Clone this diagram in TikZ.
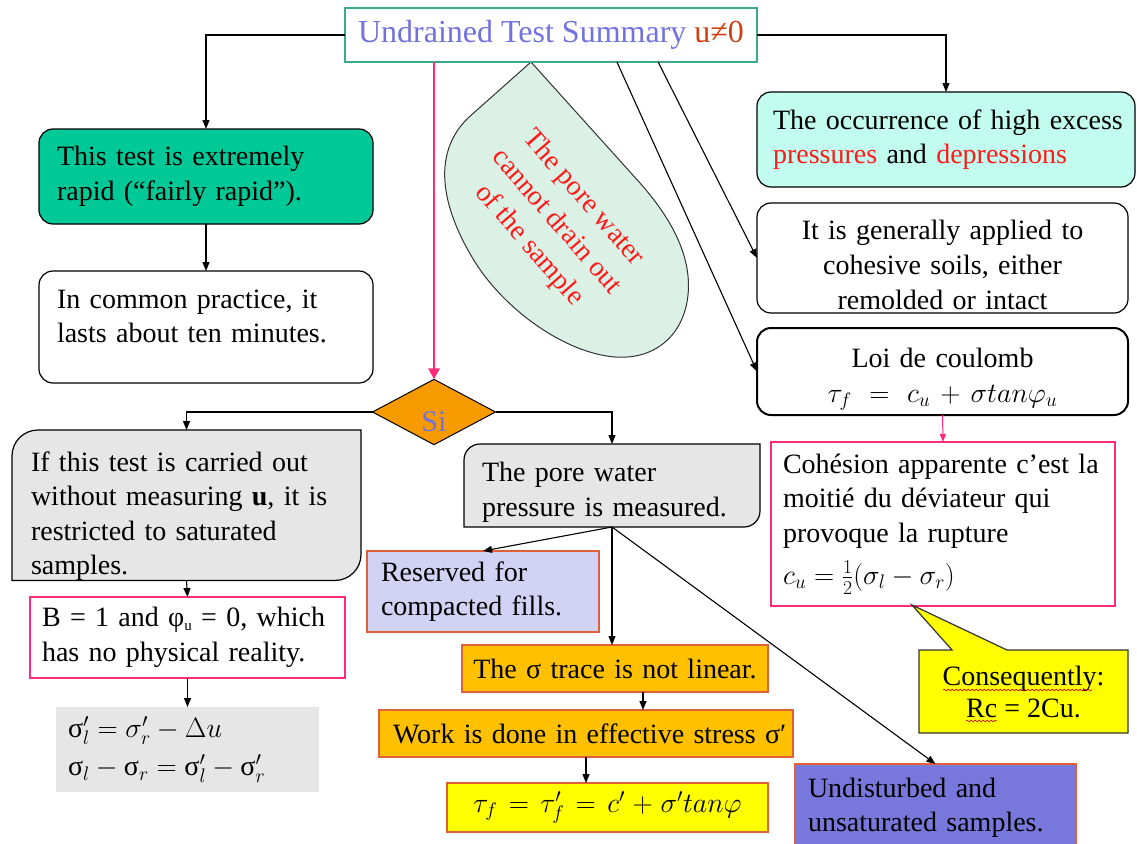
\RequirePackage{fix-cm}
\documentclass[tikz,border=0pt]{standalone}
\usepackage{fontspec}
\setmainfont{Liberation Serif}
\usetikzlibrary{shapes.geometric,arrows.meta,calc,backgrounds,decorations.pathmorphing}

\definecolor{ttlblue}{HTML}{7272DE}
\definecolor{ttlred}{HTML}{D04010}
\definecolor{ttlgreen}{HTML}{3AAA88}
\definecolor{rapidgreen}{HTML}{00C896}
\definecolor{dropfill}{HTML}{DCF1E6}
\definecolor{lightcyan}{HTML}{C2FCEE}
\definecolor{boxgray}{HTML}{E6E6E6}
\definecolor{pinkc}{HTML}{FF2A7A}
\definecolor{siorange}{HTML}{F79A00}
\definecolor{lav}{HTML}{D2D2F4}
\definecolor{amber}{HTML}{FFC000}
\definecolor{edgeor}{HTML}{E0603A}
\definecolor{yel}{HTML}{FFFF00}
\definecolor{purp}{HTML}{7878DC}
\definecolor{redtxt}{HTML}{FF1A1A}

\newcommand\bodyfont{\fontsize{28}{34.5}\selectfont}
\newcommand\upht[1]{\rule{0pt}{#1}}
\newcommand\dndp[1]{\rule[-#1]{0pt}{0pt}}
\newcommand\lnx[1]{\mbox{#1}}

\begin{document}
\begin{tikzpicture}[x=1pt,y=-1pt,
  every node/.style={inner sep=0pt, outer sep=0pt, font=\bodyfont},
  tbox/.style={rectangle, anchor=north west, align=left, line width=1.2pt},
  cbox/.style={rectangle, anchor=north west, align=center, line width=1.2pt},
  arr/.style={draw=black, line width=1.1pt, -{Triangle[length=9pt,width=7pt]}},
  pinkarr/.style={draw=pinkc, line width=2.8pt, -{Triangle[length=11pt,width=11pt]}},
  thinpink/.style={draw=pinkc, line width=1pt, -{Triangle[length=8pt,width=6pt]}},
  orbox/.style={draw=edgeor, line width=1.3pt}
]
\useasboundingbox (0,0) rectangle (1137,843);

% teardrop
\draw[fill=dropfill, draw=black!80, line width=1pt]
  (531,62) -- (640,183) .. controls (670,217) and (692,255) .. (688,295)
  .. controls (684,335) and (655,360) .. (615,357)
  .. controls (565,353) and (505,310) .. (475,262)
  .. controls (450,222) and (425,160) .. (468,118) -- cycle;
\node[text=redtxt, rotate=-49, align=center, font=\fontsize{28}{36}\selectfont] (droptxt) at (556,222)
  {The pore water\\cannot drain out\\of the sample};

% title
\node[draw=ttlgreen, line width=1.5pt, fill=white, minimum width=412pt, minimum height=54pt,
  font=\fontsize{32}{36}\selectfont] (title) at (551,35)
  {\textcolor{ttlblue}{Undrained Test Summary} \textcolor{ttlred}{u≠0}};

% left column
\node[tbox, draw, fill=rapidgreen, rounded corners=14pt, minimum width=334pt, minimum height=95pt,
  text width=298pt, inner xsep=18pt] (rapid) at (39,129)
  {\lnx{This test is extremely}\\\lnx{rapid (“fairly rapid”).}};
\node[tbox, draw, fill=white, rounded corners=14pt, minimum width=334pt, minimum height=112pt,
  text width=298pt, inner xsep=18pt] (common) at (39,271)
  {\lnx{In common practice, it}\\\lnx{lasts about ten minutes.}\dndp{22pt}};

% diamond
\node[diamond, draw, line width=1pt, fill=siorange, minimum width=123pt, minimum height=63pt,
  text=ttlblue, font=\fontsize{30}{34}\selectfont] (dia) at (434,412) {\upht{40pt}Si};

\node[tbox, minimum width=349pt, minimum height=150pt, text width=311pt, inner xsep=19pt] (ifb) at (12,430)
  {\upht{41pt}\lnx{If this test is carried out}\\\lnx{without measuring \textbf{u}, it is}\\\lnx{restricted to saturated}\\samples.};
\node[tbox, draw=pinkc, line width=1.5pt, fill=white, minimum width=315pt, minimum height=81pt,
  text width=291pt, inner xsep=12pt] (bb) at (30,597)
  {\lnx{B = 1 and φ{\fontsize{15}{15}\selectfont\raisebox{-4pt}{u}} = 0, which}\\\lnx{has no physical reality.}};
\node[tbox, fill=boxgray, minimum width=263pt, minimum height=85pt, text width=239pt, inner xsep=12pt] (fl) at (56,707)
  {$\mbox{σ}'_l = \sigma'_r - \Delta u$\\[4pt]$\mbox{σ}_l - \mbox{σ}_r = \mbox{σ}'_l - \mbox{σ}'_r$};

% middle column
\node[tbox, minimum width=296pt, minimum height=83pt, text width=260pt, inner xsep=18pt] (pw) at (464,444)
  {\upht{33pt}\lnx{The pore water}\\\lnx{pressure is measured.}};
\node[tbox, orbox, fill=lav, minimum width=232pt, minimum height=81pt, text width=204pt, inner xsep=14pt] (res) at (367,551)
  {\lnx{Reserved for}\\\lnx{compacted fills.}};
\node[cbox, orbox, fill=amber, minimum width=306pt, minimum height=47pt, text width=306pt] (sig) at (462,645)
  {\lnx{The σ trace is not linear.}};
\node[tbox, orbox, fill=amber, minimum width=414pt, minimum height=47pt, text width=400pt, inner xsep=7pt] (work) at (379,710)
  {\hspace*{7pt}\lnx{Work is done in effective stress σ′}};
\node[cbox, orbox, fill=yel, minimum width=321pt, minimum height=49pt, text width=321pt] (tau) at (447,783)
  {$\tau_f = \tau'_f = c' + \sigma' tan\varphi$};
\node[tbox, orbox, fill=purp, minimum width=281pt, minimum height=88pt, text width=255pt, inner xsep=13pt] (und) at (795,764)
  {\lnx{Undisturbed and}\\\lnx{unsaturated samples.}};

% right column
\node[tbox, draw, fill=lightcyan, rounded corners=14pt, minimum width=378pt, minimum height=95pt,
  text width=346pt, inner xsep=16pt] (occ) at (757,92)
  {\lnx{The occurrence of high excess}\\\lnx{\textcolor{redtxt}{pressures} and \textcolor{redtxt}{depressions}}};
\node[cbox, draw, fill=white, rounded corners=14pt, minimum width=371pt, minimum height=110pt,
  text width=371pt, font=\fontsize{28}{35}\selectfont] (gen) at (757,203)
  {\upht{33pt}\lnx{It is generally applied to}\\\lnx{cohesive soils, either}\\\lnx{remolded or intact}};
\node[cbox, draw, line width=2pt, fill=white, rounded corners=14pt, minimum width=371pt, minimum height=87pt,
  text width=371pt] (loi) at (757,328)
  {\upht{35pt}\lnx{Loi de coulomb}\\$\tau_f = c_u + \sigma tan\varphi_u$};
\node[tbox, draw=pinkc, line width=1.5pt, fill=white, minimum width=344pt, minimum height=164pt,
  text width=320pt, inner xsep=12pt] (coh) at (771,442)
  {\lnx{Cohésion apparente c’est la}\\\lnx{moitié du déviateur qui}\\\lnx{provoque la rupture}\\[8pt]$c_u = \frac{1}{2}(\sigma_l - \sigma_r)$};

% callout
\draw[fill=yel, draw=black!80, line width=1.2pt]
  (919,650) -- (952,650) -- (912,605) -- (1007,650) -- (1128,650) -- (1128,733) -- (919,733) -- cycle;
\node[align=center, font=\fontsize{28}{32}\selectfont] (call) at (1023.5,691.5) {Consequently:\\Rc = 2Cu.};
\draw[red!80!black, line width=0.6pt, decorate, decoration={snake, amplitude=0.8pt, segment length=4pt}]
  (943,690) -- (1092,690);
\draw[red!80!black, line width=0.6pt, decorate, decoration={snake, amplitude=0.8pt, segment length=4pt}]
  (966,721) -- (997,721);

% special-shaped grey boxes
\begin{scope}[on background layer]
\draw[fill=boxgray, line width=1.2pt] (ifb.west) [rounded corners=26pt] |- (ifb.north) [sharp corners] -| (ifb.east)
  [rounded corners=26pt] |- (ifb.south) [sharp corners] -| (ifb.west) -- cycle;
\draw[fill=boxgray, line width=1.2pt] (pw.west) [rounded corners=16pt] |- (pw.north) [sharp corners] -| (pw.east)
  [rounded corners=16pt] |- (pw.south) [sharp corners] -| (pw.west) -- cycle;
\end{scope}

% connectors
\draw[arr] (title.west) -| (rapid.north);
\draw[arr] (rapid.south) -- (common.north);
\draw[arr] (title.east) -| (occ.north);
\draw[arr] ($(title.south west)!0.66!(title.south east)$) -- (loi.west);
\draw[arr] ($(title.south west)!0.76!(title.south east)$) -- (gen.west);
\draw[pinkarr] (dia.north |- title.south) -- (dia.north);
\draw[arr] (dia.west) -| (ifb.north);
\draw[arr] (dia.east) -| (pw.north);
\draw[arr] (ifb.south) -- (bb.north);
\draw[arr] (bb.south) -- (fl.north);
\draw[arr] (pw.south) -- (res.north);
\draw[arr] (pw.south) -- (pw.south |- sig.north);
\draw[arr] (pw.south) -- (und.north);
\coordinate (sigout) at ($(sig.south)+(28,0)$);
\draw[arr] (sigout) -- (sigout |- work.north);
\draw[arr] (work.south) -- (work.south |- tau.north);
\draw[thinpink] (loi.south) -- (coh.north);
\end{tikzpicture}
\end{document}
